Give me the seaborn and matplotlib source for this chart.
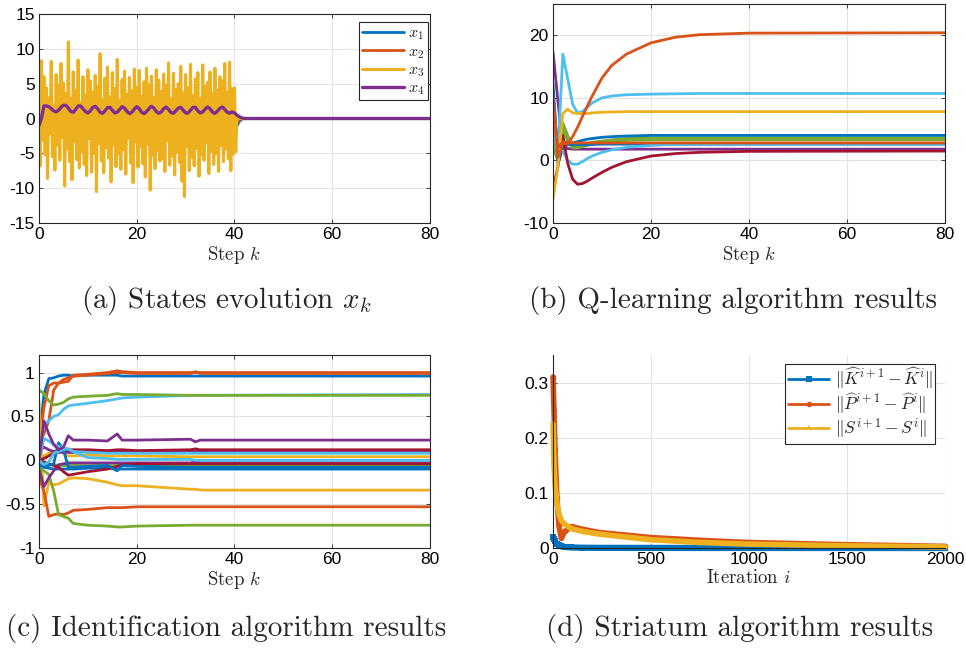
import numpy as np
import matplotlib
matplotlib.use('Agg')
import matplotlib.pyplot as plt
import seaborn as sns

# MATLAB default colours
C_BLUE = '#0072BD'
C_ORANGE = '#D95319'
C_YELLOW = '#EDB120'
C_PURPLE = '#7E2F8E'
C_GREEN = '#77AC30'
C_LBLUE = '#4DBEEE'
C_DRED = '#A2142F'

# ---------------- (a) states evolution ----------------
k_a_noise = np.arange(0, 40.01, 0.25)
x3_noise = [2.5, -6.8, 8.3, -3.1, 6.0, -5.2, 4.4, -8.6, 3.0, -2.2, 8.2, -5.5, 1.8, -7.4, 6.3, -3.9, 4.8, -6.0, 7.9, -2.7,
            5.1, -9.7, 3.6, -4.4, 11.0, -6.2, 2.9, -8.8, 6.7, -3.3, 4.1, -5.9, 8.4, -7.1, 2.3, -4.8, 6.0, -6.6, 3.4, -8.2,
            7.0, -2.9, 5.4, -7.7, 3.8, -5.0, 6.2, -10.5, 4.6, -3.6, 9.3, -6.1, 2.7, -7.8, 5.8, -4.2, 7.4, -5.7, 3.1, -9.1,
            6.6, -3.8, 4.3, -6.9, 8.5, -5.1, 2.6, -7.3, 5.6, -4.5, 6.8, -8.0, 3.5, -2.8, 5.9, -6.4, 4.0, -9.2, 7.1, -3.4,
            4.5, -7.0, 6.9, -4.1, 3.2, -6.5, 5.3, -8.4, 7.2, -3.7, 4.9, -10.3, 6.1, -5.3, 3.0, -7.2, 7.0, -4.6, 5.5, -6.1,
            3.9, -5.8, 6.4, -7.6, 4.7, -3.2, 8.0, -6.7, 2.8, -5.4, 6.5, -8.1, 4.2, -4.9, 5.0, -6.3, 7.5, -9.0, 3.7, -11.2,
            6.3, -4.0, 4.4, -7.5, 7.8, -5.6, 3.3, -6.8, 5.7, -4.3, 6.6, -8.3, 2.9, -5.2, 7.7, -6.0, 4.6, -3.5, 5.2, -7.9,
            6.7, -4.7, 3.6, -6.6, 7.2, -5.0, 4.1, -7.6, 6.0, -3.9, 5.4, -6.2, 7.9, -4.4, 3.8, -5.8, 8.1, -7.5, 4.3, -5.1,
            4.4]
k_a_tail = [40.25, 40.5, 41, 80]
x3_tail = [-4.8, 0.2, 0.0, 0.0]

k_a_x4 = np.append(np.arange(0, 42.01, 0.5), 80)
x4 = [-1.0, 0.0, 1.8, 1.8, 1.7, 1.4, 1.1, 0.95, 1.2, 1.6, 1.9, 1.9, 1.5, 1.0, 0.9, 1.3, 1.8, 1.8, 1.4, 1.0,
      0.8, 1.1, 1.6, 1.75, 1.4, 0.9, 0.75, 1.1, 1.55, 1.6, 1.2, 0.8, 0.9, 1.3, 1.7, 1.5, 1.0, 0.7, 0.9, 1.35,
      1.7, 1.4, 0.9, 0.7, 1.0, 1.4, 1.75, 1.5, 1.0, 0.75, 0.95, 1.4, 1.65, 1.3, 0.85, 0.75, 1.1, 1.5, 1.6, 1.2,
      0.8, 0.8, 1.2, 1.6, 1.6, 1.1, 0.8, 0.95, 1.35, 1.65, 1.4, 0.9, 0.75, 1.05, 1.45, 1.65, 1.3, 0.9, 0.75, 0.95,
      0.8, 0.5, 0.25, 0.08, 0.0, 0.0]

k_a_x12 = [0, 10, 20, 30, 40, 40.5, 41, 41.5, 42, 80]
x1 = [0.0, 0.3, -0.2, 0.1, 0.0, -1.1, -0.4, -0.1, 0.0, 0.0]
x2 = [0.0, -0.2, 0.2, -0.1, 0.0, -0.5, -0.2, 0.0, 0.0, 0.0]

# ---------------- (b) Q-learning ----------------
k_b = [0, 1, 2, 3, 4, 5, 6, 7, 8, 10, 12, 15, 20, 25, 30, 40, 80]
q_lines = [
    (C_PURPLE, [17.3, 9.5, 1.9, 1.9, 1.8, 1.8, 1.8, 1.8, 1.8, 1.8, 1.8, 1.8, 1.8, 1.8, 1.8, 1.8, 1.8]),
    (C_GREEN, [3.0, 1.0, 6.0, 4.0, 2.3, 2.4, 2.5, 2.7, 2.9, 3.1, 3.3, 3.5, 3.6, 3.6, 3.6, 3.6, 3.6]),
    (C_GREEN, [2.0, 0.0, 5.0, 3.0, 2.0, 2.0, 2.2, 2.4, 2.6, 2.9, 3.0, 3.2, 3.3, 3.3, 3.3, 3.3, 3.3]),
    (C_BLUE, [11.0, 1.0, 2.8, 2.6, 2.5, 2.5, 2.5, 2.5, 2.55, 2.6, 2.6, 2.6, 2.6, 2.6, 2.6, 2.6, 2.6]),
    (C_BLUE, [12.3, -0.5, 2.0, 2.5, 2.8, 3.0, 3.2, 3.4, 3.5, 3.7, 3.8, 3.9, 4.0, 4.0, 4.0, 4.0, 4.0]),
    (C_LBLUE, [5.0, 1.2, 1.5, 0.0, -0.6, -0.6, -0.2, 0.3, 0.7, 1.3, 1.7, 2.1, 2.4, 2.6, 2.65, 2.7, 2.7]),
    (C_DRED, [-4.5, -1.0, 4.0, -0.5, -3.0, -3.8, -3.7, -3.3, -2.8, -1.9, -1.1, -0.2, 0.7, 1.1, 1.3, 1.45, 1.5]),
    (C_LBLUE, [7.0, 1.0, 17.0, 13.0, 9.0, 7.6, 7.8, 8.5, 9.2, 10.0, 10.3, 10.5, 10.6, 10.65, 10.7, 10.7, 10.7]),
    (C_YELLOW, [-6.2, -1.0, 7.5, 8.2, 7.6, 7.5, 7.5, 7.5, 7.6, 7.7, 7.75, 7.8, 7.8, 7.8, 7.8, 7.8, 7.8]),
    (C_ORANGE, [9.0, 2.0, 3.0, 2.9, 2.8, 2.8, 2.8, 2.8, 2.8, 2.8, 2.8, 2.8, 2.8, 2.8, 2.8, 2.8, 2.8]),
    (C_ORANGE, [10.0, 0.5, 2.8, 2.6, 3.8, 5.3, 7.0, 8.7, 10.3, 13.2, 15.2, 17.0, 18.8, 19.7, 20.1, 20.35, 20.4]),
]

# ---------------- (c) identification ----------------
k_c = [0, 1, 2, 3, 4, 5, 6, 7, 10, 14, 16, 17, 20, 31, 32, 33, 80]
id_lines = [
    (C_BLUE, [0.2, 0.75, 0.93, 0.94, 0.96, 0.97, 0.97, 0.96, 0.97, 0.97, 0.97, 0.96, 0.96, 0.96, 0.96, 0.96, 0.96]),
    (C_ORANGE, [0.2, 0.6, 0.85, 0.88, 0.88, 0.89, 0.90, 0.97, 0.98, 1.00, 1.02, 1.01, 1.00, 1.00, 1.00, 1.00, 1.00]),
    (C_ORANGE, [0.2, 0.3, 0.45, 0.80, 0.88, 0.92, 0.94, 0.96, 0.97, 0.99, 1.00, 1.00, 0.99, 0.99, 1.01, 0.99, 0.99]),
    (C_LBLUE, [0.05, 0.4, 0.45, 0.5, 0.52, 0.58, 0.62, 0.63, 0.65, 0.68, 0.70, 0.71, 0.72, 0.74, 0.74, 0.74, 0.75]),
    (C_GREEN, [0.8, 0.76, 0.68, 0.63, 0.64, 0.66, 0.70, 0.72, 0.73, 0.74, 0.76, 0.75, 0.75, 0.74, 0.74, 0.74, 0.74]),
    (C_YELLOW, [0.68, -0.52, -0.25, -0.28, -0.27, -0.24, -0.21, -0.20, -0.21, -0.25, -0.28, -0.29, -0.29, -0.33, -0.33, -0.34, -0.34]),
    (C_ORANGE, [-0.2, -0.35, -0.64, -0.62, -0.61, -0.62, -0.60, -0.57, -0.56, -0.54, -0.54, -0.54, -0.53, -0.53, -0.53, -0.53, -0.53]),
    (C_GREEN, [-0.1, -0.12, -0.16, -0.35, -0.62, -0.64, -0.66, -0.72, -0.74, -0.75, -0.76, -0.76, -0.75, -0.74, -0.74, -0.74, -0.74]),
    (C_GREEN, [-0.1, -0.06, -0.05, -0.05, -0.06, -0.06, -0.06, -0.06, -0.06, -0.06, -0.06, -0.06, -0.06, -0.06, -0.06, -0.06, -0.06]),
    (C_BLUE, [-0.05, -0.08, -0.09, -0.10, -0.10, -0.10, -0.10, -0.10, -0.09, -0.09, -0.10, -0.10, -0.10, -0.10, -0.10, -0.10, -0.10]),
    (C_PURPLE, [-0.1, -0.3, -0.2, -0.12, -0.05, -0.04, -0.03, -0.03, -0.03, -0.03, -0.03, -0.03, -0.03, -0.03, -0.02, -0.03, -0.03]),
    (C_DRED, [0.0, -0.02, -0.04, -0.06, -0.08, -0.13, -0.17, -0.16, -0.13, -0.10, -0.07, -0.05, -0.04, -0.04, -0.04, -0.04, -0.04]),
    (C_YELLOW, [0.0, 0.05, 0.08, 0.10, 0.12, 0.08, 0.05, 0.05, 0.06, 0.05, 0.05, 0.05, 0.05, 0.04, 0.04, 0.04, 0.04]),
    (C_PURPLE, [0.1, 0.15, 0.12, 0.10, 0.09, 0.09, 0.09, 0.09, 0.10, 0.10, 0.10, 0.09, 0.10, 0.10, 0.11, 0.10, 0.10]),
    (C_DRED, [0.0, 0.02, 0.05, 0.08, 0.10, 0.11, 0.12, 0.12, 0.12, 0.11, 0.12, 0.12, 0.11, 0.12, 0.13, 0.12, 0.12]),
    (C_BLUE, [0.0, -0.05, -0.06, -0.04, 0.20, 0.12, -0.08, -0.08, -0.07, -0.06, -0.12, -0.06, -0.07, -0.08, -0.08, -0.08, -0.08]),
    (C_LBLUE, [0.0, -0.05, -0.02, 0.08, 0.10, 0.12, 0.13, 0.10, 0.03, 0.02, 0.01, 0.01, 0.01, 0.01, 0.00, 0.00, 0.00]),
    (C_LBLUE, [0.0, 0.25, 0.22, 0.18, 0.16, 0.14, 0.13, 0.10, 0.09, 0.08, 0.08, 0.08, 0.08, 0.08, 0.08, 0.08, 0.08]),
    (C_PURPLE, [0.0, 0.45, 0.3, 0.18, 0.12, 0.15, 0.28, 0.23, 0.23, 0.22, 0.30, 0.23, 0.23, 0.24, 0.21, 0.23, 0.23]),
]

# ---------------- (d) striatum ----------------
it_d = [0, 5, 10, 20, 30, 42, 60, 94, 150, 240, 500, 750, 1000, 1500, 2000]
dK = [0.020, 0.016, 0.012, 0.007, 0.005, 0.003, 0.002, 0.001, 0.0005, 0.0003, 0.0002, 0.0001, 0.0001, 0.0, 0.0]
dP = [0.310, 0.250, 0.180, 0.090, 0.040, 0.018, 0.030, 0.039, 0.034, 0.028, 0.019, 0.014, 0.010, 0.006, 0.003]
dS = [0.225, 0.150, 0.115, 0.080, 0.062, 0.050, 0.043, 0.035, 0.030, 0.025, 0.015, 0.010, 0.007, 0.004, 0.002]

captions = [r'(a) States evolution $x_k$', '(b) Q-learning algorithm results',
            '(c) Identification algorithm results', '(d) Striatum algorithm results']

sns.set_theme(style='whitegrid')
plt.rcParams.update({
    'font.family': ['Liberation Sans', 'DejaVu Sans'],
    'mathtext.fontset': 'cm',
    'axes.unicode_minus': False,
    'xtick.direction': 'in',
    'ytick.direction': 'in',
    'xtick.major.size': 3,
    'ytick.major.size': 3,
    'axes.edgecolor': '#262626',
    'grid.color': '#e3e3e3',
    'grid.linewidth': 0.8,
})

fig = plt.figure(figsize=(9.66, 6.49), dpi=100)
ax_a = fig.add_axes([0.0404, 0.6564, 0.4047, 0.3220])
ax_b = fig.add_axes([0.5725, 0.6564, 0.4058, 0.3374])
ax_c = fig.add_axes([0.0404, 0.1556, 0.4047, 0.2974])
ax_d = fig.add_axes([0.5725, 0.1556, 0.4058, 0.2974])

LW = 2.0
CM = 'cmr10'


def style(ax, box=True):
    for s in ['left', 'bottom']:
        ax.spines[s].set_visible(True)
        ax.spines[s].set_color('#262626')
        ax.spines[s].set_linewidth(0.8)
    for s in ['top', 'right']:
        ax.spines[s].set_visible(box)
        ax.spines[s].set_color('#262626')
        ax.spines[s].set_linewidth(0.8)
    ax.tick_params(axis='both', which='both', labelsize=12.5, colors='#262626',
                   top=box, right=box, bottom=True, left=True, length=3, width=0.6,
                   labelcolor='black', pad=3)
    ax.grid(True)
    ax.set_axisbelow(True)


# (a)
sns.lineplot(x=k_a_x12, y=x1, ax=ax_a, color=C_BLUE, lw=LW, label=r'$x_1$')
sns.lineplot(x=k_a_x12, y=x2, ax=ax_a, color=C_ORANGE, lw=LW, label=r'$x_2$')
sns.lineplot(x=np.append(k_a_noise, k_a_tail), y=x3_noise + x3_tail, ax=ax_a,
             color=C_YELLOW, lw=2.2, label=r'$x_3$')
sns.lineplot(x=k_a_x4, y=x4, ax=ax_a, color=C_PURPLE, lw=2.4, label=r'$x_4$')
ax_a.set_xlim(0, 80)
ax_a.set_ylim(-15, 15)
ax_a.set_xticks([0, 20, 40, 60, 80])
ax_a.set_yticks([-15, -10, -5, 0, 5, 10, 15])
leg = ax_a.legend(loc='upper right', fontsize=11.5, frameon=True, fancybox=False,
                  edgecolor='#262626', framealpha=1, borderpad=0.2, labelspacing=0.1,
                  handlelength=2.6, handletextpad=0.3, borderaxespad=0,
                  bbox_to_anchor=(0.995, 0.96))
leg.get_frame().set_linewidth(0.8)
style(ax_a)

# (b)
for col, vals in q_lines:
    sns.lineplot(x=k_b, y=vals, ax=ax_b, color=col, lw=LW)
ax_b.set_xlim(0, 80)
ax_b.set_ylim(-10, 25)
ax_b.set_xticks([0, 20, 40, 60, 80])
ax_b.set_yticks([-10, 0, 10, 20])
style(ax_b)

# (c)
for col, vals in id_lines:
    sns.lineplot(x=k_c, y=vals, ax=ax_c, color=col, lw=LW)
ax_c.set_xlim(0, 80)
ax_c.set_ylim(-1, 1.2)
ax_c.set_xticks([0, 20, 40, 60, 80])
ax_c.set_yticks([-1, -0.5, 0, 0.5, 1])
ax_c.set_yticklabels(['-1', '-0.5', '0', '0.5', '1'])
style(ax_c)

# (d) - MATLAB does not clip these lines at the axes edge
sns.lineplot(x=it_d, y=dK, ax=ax_d, color=C_BLUE, lw=4.5, marker='s', markersize=4,
             markeredgewidth=0, clip_on=False, label=r'$\|\widehat{K}^{i+1}-\widehat{K}^{i}\|$')
sns.lineplot(x=it_d, y=dP, ax=ax_d, color=C_ORANGE, lw=4.0, marker='o', markersize=4,
             markeredgewidth=0, clip_on=False, label=r'$\|\widehat{P}^{i+1}-\widehat{P}^{i}\|$')
sns.lineplot(x=it_d, y=dS, ax=ax_d, color=C_YELLOW, lw=4.0, marker='*', markersize=5,
             markeredgewidth=0, clip_on=False, label=r'$\|S^{i+1}-S^{i}\|$')
ax_d.set_xlim(0, 2000)
ax_d.set_ylim(0, 0.35)
ax_d.set_xticks([0, 500, 1000, 1500, 2000])
ax_d.set_yticks([0, 0.1, 0.2, 0.3])
ax_d.set_yticklabels(['0', '0.1', '0.2', '0.3'])
leg = ax_d.legend(loc='upper right', fontsize=12.5, frameon=True, fancybox=False,
                  edgecolor='#262626', framealpha=1, borderpad=0.15, labelspacing=0.02,
                  handlelength=2.4, handletextpad=0.3, borderaxespad=0,
                  bbox_to_anchor=(0.975, 0.955))
leg.get_frame().set_linewidth(0.8)
for h in leg.get_lines():
    h.set_linewidth(2.0)
style(ax_d, box=False)

ax_a.set_xlabel(r'Step $k$', family=CM, fontsize=13.5, labelpad=1)
ax_b.set_xlabel(r'Step $k$', family=CM, fontsize=13.5, labelpad=1)
ax_c.set_xlabel(r'Step $k$', family=CM, fontsize=13.5, labelpad=1)
ax_d.set_xlabel(r'Iteration $i$', family=CM, fontsize=13.5, labelpad=1)
for ax in [ax_a, ax_b, ax_c, ax_d]:
    ax.set_ylabel('')

fig.text(0.234, 0.537, captions[0], family=CM, fontsize=21, ha='center', va='center')
fig.text(0.759, 0.537, captions[1], family=CM, fontsize=21, ha='center', va='center')
fig.text(0.234, 0.032, captions[2], family=CM, fontsize=21, ha='center', va='center')
fig.text(0.766, 0.032, captions[3], family=CM, fontsize=21, ha='center', va='center')

fig.savefig('out.png', dpi=100)
